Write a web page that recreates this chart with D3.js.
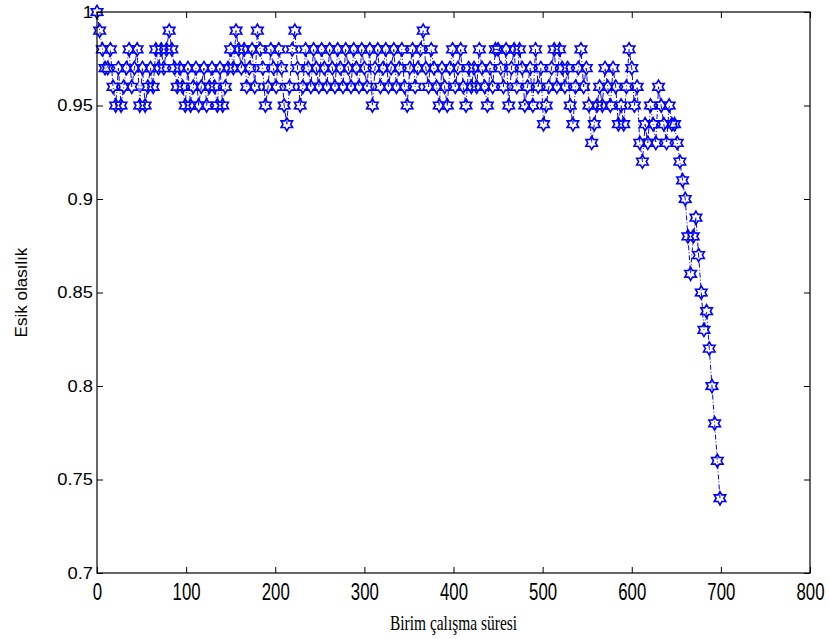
<!DOCTYPE html>
<html><head><meta charset="utf-8">
<script src="https://cdn.jsdelivr.net/npm/d3@7"></script>
<style>
html,body{margin:0;padding:0;background:#fff;}
svg{display:block;}
</style>
</head><body>
<svg id="chart" width="829" height="639"></svg>
<script>
// ---- data ----
const xStep = 3; // unit spacing between samples along "Birim çalışma süresi"
const seg0 = [1.00,0.99,0.98,0.97,0.97,0.98,0.96,0.95,0.97,0.95];
const seg1 = [0.96,0.97,0.98,0.96,0.97,0.98,0.95,0.97,0.95,0.96];
const seg2 = [0.97,0.96,0.98,0.97,0.98,0.97,0.98,0.99,0.98,0.97];
const seg3 = [0.96,0.97,0.96,0.95,0.97,0.95,0.96,0.97,0.95,0.96];
const seg4 = [0.97,0.95,0.96,0.97,0.96,0.95,0.97,0.95,0.96,0.97];
const seg5 = [0.98,0.97,0.99,0.98,0.97,0.98,0.96,0.97,0.98,0.96];
const seg6 = [0.99,0.98,0.97,0.95,0.96,0.98,0.97,0.96,0.98,0.97];
const seg7 = [0.95,0.94,0.96,0.98,0.99,0.97,0.95,0.96,0.98,0.97];
const seg8 = [0.96,0.98,0.97,0.96,0.98,0.97,0.96,0.98,0.97,0.96];
const seg9 = [0.98,0.97,0.96,0.98,0.97,0.96,0.98,0.97,0.96,0.98];
const seg10 = [0.97,0.96,0.98,0.95,0.97,0.98,0.96,0.97,0.98,0.96];
const seg11 = [0.97,0.98,0.96,0.97,0.98,0.96,0.95,0.97,0.98,0.96];
const seg12 = [0.97,0.98,0.99,0.97,0.96,0.98,0.97,0.96,0.95,0.97];
const seg13 = [0.96,0.95,0.97,0.98,0.96,0.97,0.98,0.96,0.95,0.97];
const seg14 = [0.96,0.97,0.96,0.98,0.97,0.96,0.95,0.97,0.96,0.98];
const seg15 = [0.98,0.97,0.96,0.98,0.95,0.97,0.98,0.96,0.98,0.97];
const seg16 = [0.95,0.96,0.97,0.95,0.98,0.96,0.97,0.94,0.95,0.96];
const seg17 = [0.97,0.98,0.96,0.98,0.97,0.96,0.97,0.95,0.94,0.96];
const seg18 = [0.97,0.98,0.96,0.97,0.95,0.93,0.94,0.95,0.96,0.95];
const seg19 = [0.97,0.96,0.95,0.97,0.96,0.94,0.95,0.94,0.96,0.98];
const seg20 = [0.97,0.95,0.96,0.93,0.92,0.94,0.93,0.95,0.94,0.93];
const seg21 = [0.96,0.95,0.94,0.93,0.95,0.94,0.94,0.93];
const tail  = [0.92,0.91,0.90,0.88,0.86,0.88,0.89,0.87,0.85,0.83,0.84,0.82,0.80,0.78,0.76,0.74];

const xTicks = [0,100,200,300,400,500,600,700,800];
const yTicks = [0.7,0.75,0.8,0.85,0.9,0.95,1];
const yTickLabels = ["0.7","0.75","0.8","0.85","0.9","0.95","1"];
const xTitle = "Birim çalışma süresi";
const yTitle = "Esik olasılık";

const values = [].concat(seg0,seg1,seg2,seg3,seg4,seg5,seg6,seg7,seg8,seg9,seg10,
  seg11,seg12,seg13,seg14,seg15,seg16,seg17,seg18,seg19,seg20,seg21,tail);
const data = values.map((v,i)=>({x:i*xStep, y:v}));

// ---- layout ----
const L=97, R=810, T=12, B=573;
const svg = d3.select("#chart");
const x = d3.scaleLinear().domain([0,800]).range([L,R]);
const y = d3.scaleLinear().domain([0.7,1]).range([B,T]);

svg.append("rect").attr("x",L).attr("y",T).attr("width",R-L).attr("height",B-T)
  .attr("fill","#fff");

// data line (dash-dot)
svg.append("path").datum(data)
  .attr("fill","none").attr("stroke","#0000ff").attr("stroke-width",1)
  .attr("stroke-dasharray","5,2,1,2")
  .attr("d", d3.line().x(d=>x(d.x)).y(d=>y(d.y)));

// hexagram symbol
const hexagram = {
  draw(ctx, size){
    const ro = Math.sqrt(size), ri = ro*0.58;
    for(let k=0;k<12;k++){
      const a = -Math.PI/2 + k*Math.PI/6;
      const r = k%2===0 ? ro : ri;
      const px = r*Math.cos(a), py = r*Math.sin(a);
      if(k===0) ctx.moveTo(px,py); else ctx.lineTo(px,py);
    }
    ctx.closePath();
  }
};
svg.append("g").selectAll("path").data(data).enter().append("path")
  .attr("transform", d=>`translate(${x(d.x)},${y(d.y)})`)
  .attr("d", d3.symbol().type(hexagram).size(44))
  .attr("fill","none").attr("stroke","#0000ff").attr("stroke-width",1.6);

// axes
const fontAx = "'Liberation Sans', Arial, sans-serif";
const xb = svg.append("g").attr("transform",`translate(0,${B})`)
  .call(d3.axisBottom(x).tickValues(xTicks).tickSizeInner(-6).tickSizeOuter(0).tickPadding(10).tickFormat(d3.format("d")));
const xt = svg.append("g").attr("transform",`translate(0,${T})`)
  .call(d3.axisTop(x).tickValues(xTicks).tickSizeInner(-6).tickSizeOuter(0).tickFormat(""));
const yl = svg.append("g").attr("transform",`translate(${L},0)`)
  .call(d3.axisLeft(y).tickValues(yTicks).tickSizeInner(-6).tickSizeOuter(0).tickPadding(4)
    .tickFormat((d,i)=>yTickLabels[i]));
const yr = svg.append("g").attr("transform",`translate(${R},0)`)
  .call(d3.axisRight(y).tickValues(yTicks).tickSizeInner(-6).tickSizeOuter(0).tickFormat(""));
[xb,xt,yl,yr].forEach(g=>{
  g.select(".domain").remove();
  g.selectAll(".tick line").attr("stroke","#000").attr("stroke-width",1);
  g.selectAll("text").attr("fill","#000").style("font-family",fontAx).style("font-size","16px");
});
xb.selectAll(".tick text").attr("transform","scale(1.05,1.45)").attr("y",7);
yl.selectAll(".tick text").style("font-size","17px").attr("transform","scale(1.08,1)");
yl.selectAll(".tick text").attr("x", -4/1.08 - 0);
// box
svg.append("rect").attr("x",L).attr("y",T).attr("width",R-L).attr("height",B-T)
  .attr("fill","none").attr("stroke","#000").attr("stroke-width",1.2);

// titles
svg.append("g").attr("transform",`translate(${(L+R)/2},630)`)
  .append("text").attr("text-anchor","middle").attr("transform","scale(0.86,1.15)")
  .style("font-family","'Liberation Serif','Times New Roman',serif").style("font-size","18px")
  .attr("fill","#000").text(xTitle);
svg.append("text").attr("transform",`translate(27,${(T+B)/2}) rotate(-90)`).attr("text-anchor","middle")
  .style("font-family",fontAx).style("font-size","17px").attr("fill","#000").text(yTitle);
</script>
</body></html>
